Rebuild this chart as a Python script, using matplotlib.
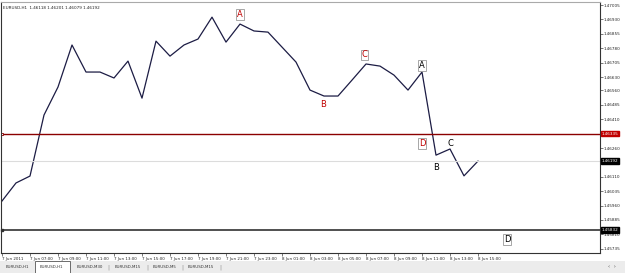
import matplotlib
matplotlib.use('Agg')
import matplotlib.pyplot as plt
from matplotlib.patches import Rectangle
from matplotlib.transforms import blended_transform_factory

# hourly closes, 7 Jun 2011 05:00 .. 8 Jun 2011 15:00
closes = [1.45984, 1.46078, 1.46114, 1.46432, 1.46578, 1.46797, 1.46656, 1.46656,
          1.46625, 1.46713, 1.46520, 1.46817, 1.46739, 1.46797, 1.46828, 1.46942,
          1.46812, 1.46906, 1.46870, 1.46864, 1.46786, 1.46708, 1.46562, 1.46531,
          1.46531, 1.46614, 1.46698, 1.46687, 1.46640, 1.46562, 1.46656, 1.46223,
          1.46255, 1.46115, 1.46192]
time_labels = ['7 Jun 2011', '7 Jun 07:00', '7 Jun 09:00', '7 Jun 11:00', '7 Jun 13:00',
               '7 Jun 15:00', '7 Jun 17:00', '7 Jun 19:00', '7 Jun 21:00', '7 Jun 23:00',
               '8 Jun 01:00', '8 Jun 03:00', '8 Jun 05:00', '8 Jun 07:00', '8 Jun 09:00',
               '8 Jun 11:00', '8 Jun 13:00', '8 Jun 15:00']
price_ticks = [1.47005, 1.46930, 1.46855, 1.46780, 1.46705, 1.46630, 1.46560, 1.46485,
               1.46410, 1.46260, 1.46110, 1.46035, 1.45960, 1.45885, 1.45810, 1.45735]
red_level = 1.46335
bid_level = 1.46192
black_level = 1.45832

# wave labels: (bar, price, text, colour, boxed)
wave_labels = [(17, 1.46955, 'A', '#c00000', True),
               (22.9, 1.46485, 'B', '#c00000', False),
               (25.9, 1.46745, 'C', '#c00000', True),
               (30, 1.46690, 'A', 'black', True),
               (30, 1.46285, 'D', '#c00000', True),
               (31, 1.46160, 'B', 'black', False),
               (32, 1.46285, 'C', 'black', False),
               (36.1, 1.45785, 'D', 'black', True)]
tabs = ['EURUSD,H1', 'EURUSD,H1', 'EURUSD,M30', 'EURUSD,M15', 'EURUSD,M5', 'EURUSD,M15']
tab_x = [6, 40, 77, 115, 153, 188]
tab_sep = [108, 147, 182, 220]

W, H = 625, 273
fig = plt.figure(figsize=(W / 100, H / 100), dpi=100)
fig.patch.set_facecolor('white')

ax = fig.add_axes([1 / W, (H - 253) / H, 599 / W, 251 / H])
x = list(range(len(closes)))
ax.plot(x, closes, color='#1c1c44', lw=0.9)
ax.set_xlim(-1 / 14, 598 / 14)
ax.set_ylim(1.45713, 1.47021)

ax.axhline(red_level, color='#8b0000', lw=1.0)
ax.axhline(bid_level, color='#dcdcdc', lw=0.8)
ax.axhline(black_level, color='#505050', lw=1.4)
ax.plot([0], [red_level], marker='s', ms=2, mfc='white', mec='#8b0000', mew=0.6, clip_on=False)
ax.plot([0], [black_level], marker='s', ms=2, color='#303030', clip_on=False)

for bx, py, t, c, boxed in wave_labels:
    bbox = dict(boxstyle='square,pad=0.1', fc='white', ec='#999999', lw=0.6) if boxed else None
    ax.text(bx, py, t, color=c, fontsize=6, ha='center', va='center', bbox=bbox)

ax.set_xticks(x[::2])
ax.set_xticklabels(time_labels, fontsize=2.9, ha='left', color='#222222')
ax.tick_params(axis='x', length=2, width=0.5, pad=0.8, color='#444444')
ax.yaxis.tick_right()
ax.set_yticks(price_ticks)
ax.set_yticklabels(['%.5f' % p for p in price_ticks], fontsize=3.0, color='#222222')
ax.tick_params(axis='y', length=2, width=0.5, pad=0.8, color='#444444')
for s in ax.spines.values():
    s.set_color('#333333')
    s.set_linewidth(0.8)
ax.spines['top'].set_color('#aaaaaa')

tr = blended_transform_factory(ax.transAxes, ax.transData)
for lvl, fc in [(red_level, '#c00000'), (bid_level, 'black'), (black_level, 'black')]:
    ax.text(1.003, lvl, '%.5f' % lvl, transform=tr, fontsize=3.0, color='white',
            ha='left', va='center', clip_on=False,
            bbox=dict(boxstyle='square,pad=0.2', fc=fc, ec=fc))

ax.text(0.003, 0.985, 'EURUSD,H1  1.46118 1.46201 1.46079 1.46192', transform=ax.transAxes,
        fontsize=3.0, ha='left', va='top', color='#222222')

# tab strip at the bottom
fig.patches.append(Rectangle((0, 0), 1, 12 / H, transform=fig.transFigure,
                             fc='#ececec', ec='none', zorder=0))
fig.patches.append(Rectangle((35 / W, 0), 35 / W, 12 / H, transform=fig.transFigure,
                             fc='white', ec='#555555', lw=0.6, zorder=1))
for t, tx in zip(tabs, tab_x):
    fig.text(tx / W, 6 / H, t, fontsize=2.9, ha='left', va='center', color='#333333')
for sx in tab_sep:
    fig.text(sx / W, 6 / H, '|', fontsize=4, ha='center', va='center', color='#888888')
fig.text(612 / W, 6 / H, '‹  ›', fontsize=4, ha='center', va='center', color='#555555')

fig.savefig('out.png', dpi=100)
